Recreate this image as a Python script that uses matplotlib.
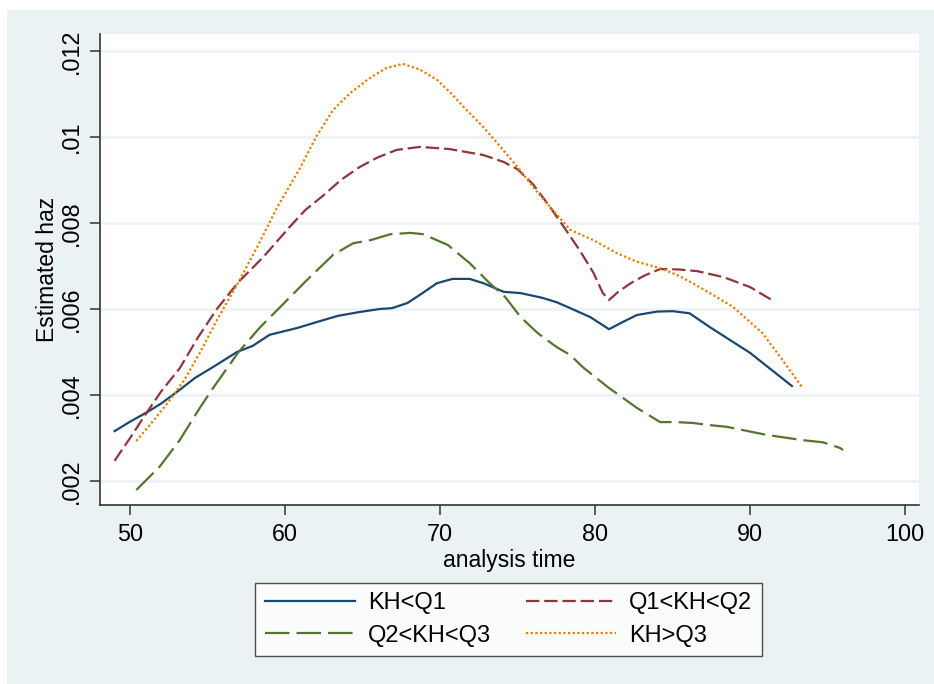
import matplotlib
matplotlib.use("Agg")
import matplotlib.pyplot as plt
from matplotlib.patches import Rectangle

plt.rcParams['font.family'] = ['Liberation Sans', 'DejaVu Sans']

# ---- data ----
x_q1 = [49.0, 50.0, 51.1, 52.0, 53.2, 54.2, 55.35, 56.9, 57.9, 59.0, 60.8, 61.8, 63.4, 64.8, 66.1,
        66.9, 67.9, 68.7, 69.8, 70.8, 71.9, 72.8, 74.1, 75.2, 76.6, 77.5, 78.4, 79.7, 80.9, 81.8,
        82.7, 84.0, 85.0, 86.1, 87.4, 88.7, 90.0, 91.4, 92.7]
y_q1 = [.00316, .00338, .0036, .0038, .00412, .0044, .00465, .0050, .00514, .0054, .00556, .00567,
        .00584, .00593, .00600, .00602, .00614, .00633, .0066, .0067, .0067, .0066, .0064, .00637,
        .00626, .00616, .00602, .00581, .00553, .0057, .00586, .00594, .00595, .0059, .00558, .00528,
        .00498, .00458, .00421]

x_q12 = [49.0, 50.0, 51.0, 52.0, 53.2, 54.4, 55.6, 57.0, 58.6, 60.3, 61.3, 62.5, 63.6, 64.8, 66.0,
         67.2, 68.7, 70.6, 72.8, 74.1, 75.0, 76.0, 77.1, 78.0, 79.0, 79.9, 80.5, 80.9, 81.5, 82.3,
         83.2, 84.2, 85.4, 86.6, 88.3, 90.0, 91.4]
y_q12 = [.00247, .00300, .00355, .00408, .00462, .00535, .00600, .00663, .00721, .00791, .0083,
         .00865, .0090, .0093, .00953, .0097, .00977, .00972, .00958, .00942, .00925, .0089, .00837,
         .0079, .00737, .00684, .00637, .00621, .0064, .0066, .00678, .00693, .00692, .00688,
         .00674, .00651, .00621]

x_q23 = [50.4, 51.9, 53.2, 54.5, 55.35, 57.0, 58.4, 59.7, 61.4, 63.1, 64.4, 65.5, 66.8, 68.1, 68.9,
         70.5, 71.9, 73.2, 74.2, 75.2, 76.3, 77.5, 78.4, 79.2, 80.8, 82.7, 84.2, 85.2, 86.3, 87.4,
         88.5, 91.1, 93.4, 94.7, 95.8, 96.0]
y_q23 = [.00179, .00233, .00295, .0037, .00416, .0050, .00558, .00605, .00667, .00726, .00753, .0076,
         .00774, .00777, .00774, .00749, .00707, .0066, .00628, .00581, .00544, .00512, .00493,
         .00465, .00419, .0037, .00337, .00337, .00335, .0033, .00326, .00307, .00295, .0029,
         .00277, .00272]

x_q3 = [50.4, 51.5, 52.5, 53.5, 54.5, 55.6, 57.0, 58.2, 59.5, 61.0, 62.0, 63.1, 64.2, 65.3, 66.5,
        67.6, 68.7, 69.8, 70.7, 71.7, 72.8, 73.9, 75.0, 76.0, 77.1, 78.4, 79.9, 81.4, 82.7, 84.2,
        85.3, 86.3, 87.6, 88.9, 90.8, 92.1, 93.4]
y_q3 = [.00293, .0034, .00385, .00435, .00498, .00574, .00663, .00744, .00837, .0093, .0100, .01063,
        .01102, .01133, .0116, .0117, .01157, .01133, .01102, .01063, .01023, .00977, .0093, .00884,
        .00837, .00784, .0076, .0073, .0071, .00695, .00679, .0066, .00633, .00605, .00544, .00481,
        .00416]

labels = ["KH<Q1", "Q1<KH<Q2", "Q2<KH<Q3", "KH>Q3"]
xticks = [50, 60, 70, 80, 90, 100]
yticks = [.002, .004, .006, .008, .01, .012]
yticklabels = [".002", ".004", ".006", ".008", ".01", ".012"]

# ---- figure ----
W, H = 934, 684
fig = plt.figure(figsize=(W / 100, H / 100), dpi=100, facecolor='white')
bg = '#EAF2F3'
fig.patches.append(Rectangle((7 / W, 0), 1 - 7 / W, (H - 10) / H, transform=fig.transFigure,
                             facecolor=bg, edgecolor='none', zorder=-10))

ax = fig.add_axes([100 / W, (H - 505) / H, 819 / W, (505 - 33.5) / H])
ax.set_facecolor('white')

lw = 1.6
l1, = ax.plot(x_q1, y_q1, color='#1a476f', lw=lw, label=labels[0])
l2, = ax.plot(x_q12, y_q12, color='#90353b', lw=lw, dashes=(6, 2.2), label=labels[1])
l3, = ax.plot(x_q23, y_q23, color='#55752f', lw=lw, dashes=(11, 3.2), label=labels[2])
l4, = ax.plot(x_q3, y_q3, color='#e37e00', lw=lw, dashes=(1, 1.1), label=labels[3])

ax.set_xlim(48.06, 100.9)
ax.set_ylim(0.001442, 0.012407)
ax.set_xticks(xticks)
ax.set_xticklabels([str(t) for t in xticks])
ax.set_yticks(yticks)
ax.set_yticklabels(yticklabels, rotation=90, va='center')

ax.yaxis.grid(True, color=bg, lw=1.8)
ax.set_axisbelow(True)
for s in ['top', 'right']:
    ax.spines[s].set_visible(False)
for s in ['left', 'bottom']:
    ax.spines[s].set_color('#333333')
    ax.spines[s].set_linewidth(1.2)
ax.tick_params(axis='both', length=7, width=1.1, color='#333333', labelsize=16.8, pad=6)
ax.tick_params(axis='y', pad=5)

ax.set_xlabel("analysis time", fontsize=16.5, labelpad=2)
ax.set_ylabel("Estimated haz", fontsize=16.5, labelpad=1)

leg = fig.legend([l1, l3, l2, l4], [labels[0], labels[2], labels[1], labels[3]], ncol=2,
                 loc='center', bbox_to_anchor=(508.5 / W, (H - 619.5) / H), fontsize=17,
                 frameon=True, fancybox=False, edgecolor='#222222', facecolor='white',
                 handlelength=3.8, handletextpad=0.55, columnspacing=1.5, borderpad=0.42,
                 labelspacing=0.43, borderaxespad=0)
leg.get_frame().set_linewidth(1.0)

fig.savefig("out.png", dpi=100, facecolor=fig.get_facecolor())
